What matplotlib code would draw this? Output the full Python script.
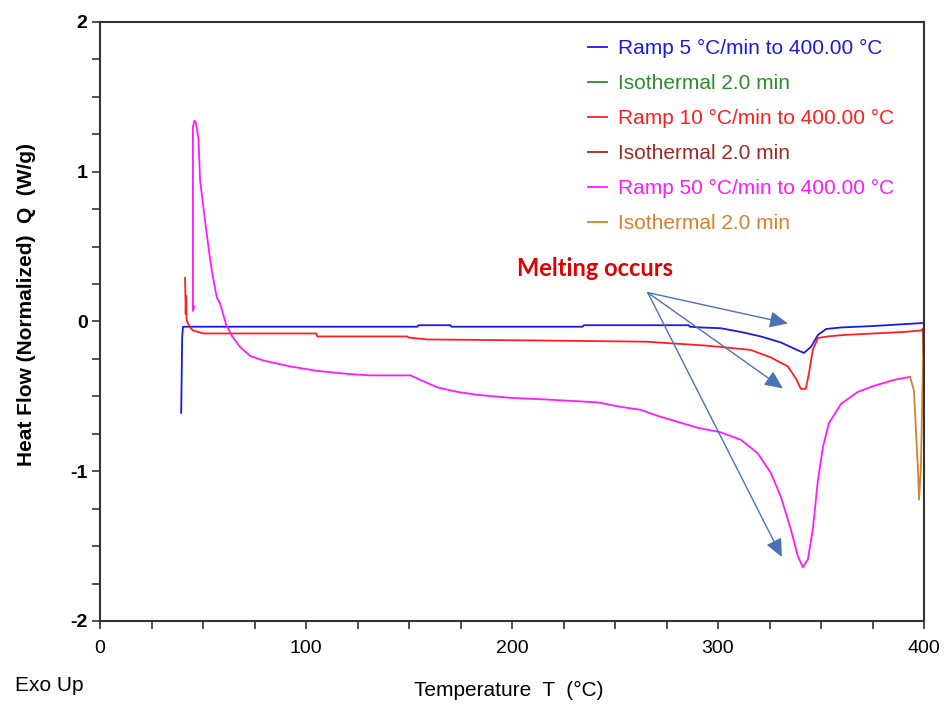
import matplotlib
matplotlib.use('Agg')
from matplotlib import pyplot as plt
from matplotlib.ticker import MultipleLocator

plt.rcParams['font.family'] = ['Liberation Sans', 'DejaVu Sans']
plt.rcParams['axes.unicode_minus'] = False

# Ramp 5 °C/min
r5_x = [39.4, 39.9, 40.3, 63.2, 154.1, 154.6, 170.1, 170.6, 234.3, 234.8, 285.8, 286.3,
        291.6, 301.3, 311.1, 320.8, 330.5, 336.8, 341.7, 345.1, 348.5, 352.5, 359.7,
        375.7, 393.7, 400.0]
r5_y = [-0.61, -0.10, -0.035, -0.035, -0.035, -0.025, -0.025, -0.035, -0.035, -0.025,
        -0.025, -0.035, -0.04, -0.045, -0.07, -0.10, -0.14, -0.18, -0.21, -0.17, -0.09,
        -0.05, -0.04, -0.03, -0.015, -0.01]

# Ramp 10 °C/min
r10_x = [41.3, 41.6, 41.8, 42.0, 42.3, 43.7, 45.2, 50.1, 105.0, 105.5, 149.2, 149.7,
         158.9, 213.9, 265.4, 281.9, 293.1, 301.3, 315.9, 325.6, 333.9, 337.8, 340.2,
         342.6, 344.1, 346.0, 348.5, 353.3, 361.1, 375.7, 390.3, 398.5, 399.5]
r10_y = [0.29, 0.05, 0.17, 0.02, 0.0, -0.04, -0.06, -0.08, -0.08, -0.10, -0.10, -0.107,
         -0.12, -0.127, -0.135, -0.15, -0.16, -0.17, -0.19, -0.24, -0.30, -0.38, -0.45,
         -0.45, -0.35, -0.19, -0.11, -0.10, -0.09, -0.08, -0.07, -0.06, -0.05]

# Ramp 50 °C/min
r50_x = [45.7, 45.1, 45.1, 45.8, 46.5, 47.8, 48.6, 51.0, 53.5, 54.9, 56.7, 58.3, 61.2,
         64.2, 68.0, 72.9, 79.2, 92.3, 105.5, 120.0, 131.2, 150.7, 155.5, 163.8, 173.5,
         183.2, 199.3, 215.3, 241.6, 252.7, 262.5, 270.7, 280.4, 290.2, 301.3, 311.1,
         319.3, 325.6, 330.5, 335.4, 338.8, 341.2, 343.6, 346.0, 348.5, 350.9, 353.8,
         359.7, 367.9, 375.7, 385.4, 393.2]
r50_y = [0.10, 0.07, 1.30, 1.34, 1.33, 1.22, 0.94, 0.67, 0.41, 0.29, 0.16, 0.12, -0.02,
         -0.10, -0.17, -0.23, -0.26, -0.30, -0.33, -0.35, -0.36, -0.36, -0.39, -0.44,
         -0.47, -0.49, -0.51, -0.52, -0.54, -0.57, -0.59, -0.63, -0.67, -0.71, -0.74,
         -0.79, -0.88, -1.01, -1.17, -1.39, -1.57, -1.64, -1.59, -1.39, -1.06, -0.84,
         -0.68, -0.55, -0.47, -0.43, -0.39, -0.37]

# Isothermal segments at 400 °C
iso5_x = [399.8, 400.0]
iso5_y = [-0.01, -0.01]
iso10_x = [399.5, 399.8, 400.0, 400.0]
iso10_y = [-0.05, -0.22, 0.04, -0.05]
iso50_x = [393.2, 395.1, 396.1, 397.1, 397.6, 398.5, 399.0, 399.5, 400.0]
iso50_y = [-0.37, -0.46, -0.73, -1.00, -1.19, -0.97, -0.61, -0.28, 0.05]

labels = ['Ramp 5 °C/min to 400.00 °C', 'Isothermal 2.0 min',
          'Ramp 10 °C/min to 400.00 °C', 'Isothermal 2.0 min',
          'Ramp 50 °C/min to 400.00 °C', 'Isothermal 2.0 min']
colors = ['#1a1ae6', '#2e8b2e', '#ff1f1f', '#a02828', '#ff1aff', '#d4822e']

# annotation: text position, arrow start, arrow tips
note_xy = (240.5, 0.355)
arrow_start = (265.9, 0.193)
arrow_tips = [(333.9, -0.013), (331.5, -0.447), (331.0, -1.573)]

fig = plt.figure(figsize=(9.48, 7.04), dpi=100)
ax = fig.add_axes([0.1055, 0.1179, 0.8692, 0.8509])

series = [(r5_x, r5_y), (iso5_x, iso5_y), (r10_x, r10_y), (iso10_x, iso10_y),
          (r50_x, r50_y), (iso50_x, iso50_y)]
for (xs, ys), lab, col in zip(series, labels, colors):
    ax.plot(xs, ys, color=col, linewidth=1.3, label=lab)

ax.set_xlim(0, 400)
ax.set_ylim(-2, 2)
ax.xaxis.set_major_locator(MultipleLocator(100))
ax.xaxis.set_minor_locator(MultipleLocator(25))
ax.yaxis.set_major_locator(MultipleLocator(1))
ax.yaxis.set_minor_locator(MultipleLocator(0.25))
ax.tick_params(which='both', direction='out', length=6, width=1.2, colors='#333333')
ax.tick_params(axis='x', which='major', labelsize=14, pad=8, labelcolor='black')
ax.tick_params(axis='y', which='major', labelsize=14, pad=3, labelcolor='black')
for t in ax.get_yticklabels():
    t.set_fontweight('bold')
for s in ax.spines.values():
    s.set_linewidth(1.5)
    s.set_color('#333333')

ax.set_xlabel('Temperature  T  (°C)', fontsize=15)
ax.xaxis.set_label_coords(0.496, -0.1)
ax.set_ylabel('Heat Flow (Normalized)  Q  (W/g)', fontsize=15, fontweight='bold')
ax.yaxis.set_label_coords(-0.078, 0.528)
fig.text(0.016, 0.018, 'Exo Up', fontsize=15)

leg = ax.legend(loc='upper right', bbox_to_anchor=(0.986, 1.003), frameon=False,
                fontsize=15, handlelength=0.9, handletextpad=0.5, labelspacing=0.77,
                labelcolor='linecolor')

ax.text(note_xy[0], note_xy[1], 'Melting occurs', color='#e00000', fontsize=17,
        fontweight='bold', family=['Lato', 'DejaVu Sans'], ha='center', va='center')
for tip in arrow_tips:
    ax.annotate('', xy=tip, xytext=arrow_start,
                arrowprops=dict(arrowstyle='-|>,head_length=1.1,head_width=0.5',
                                color='#4a72b8', lw=1.0, mutation_scale=10,
                                shrinkA=0, shrinkB=0))

plt.savefig('out.png', dpi=100)
